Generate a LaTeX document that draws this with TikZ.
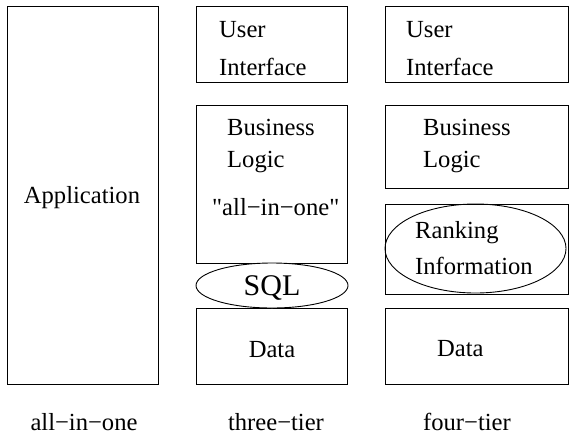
\documentclass[tikz,border=0pt]{standalone}
\usepackage{fontspec}
\setmainfont{Liberation Serif}
\newfontfamily\qfont{Liberation Serif}
\usetikzlibrary{shapes.geometric}
\begin{document}
\begin{tikzpicture}[x=1pt,y=-1pt,
  box/.style={draw,line width=0.9pt,inner sep=0pt,anchor=north west},
  oval/.style={draw,ellipse,line width=0.9pt,inner sep=0pt},
  lbl/.style={inner sep=0pt,anchor=base west,font=\fontsize{24.6}{28}\selectfont},
  ctxt/.style={inner sep=0pt,anchor=base,font=\fontsize{24.6}{28}\selectfont}]
\useasboundingbox (0,0) rectangle (569,437);
% all-in-one
\node[box,minimum width=151pt,minimum height=378pt] (app) at (7,6) {};
\node[ctxt] (apptxt) at (82,203) {Application};
\node[ctxt] (c1) at (84,430) {all−in−one};
% three-tier
\node[box,minimum width=151pt,minimum height=76pt] (ui3) at (196,6) {};
\node[lbl] (ui3a) at (219,37) {User};
\node[lbl] (ui3b) at (219,75) {Interface};
\node[box,minimum width=151pt,minimum height=158pt] (bl3) at (196,105) {};
\node[lbl] (bl3a) at (227,135) {Business};
\node[lbl] (bl3b) at (227,167) {Logic};
\node[lbl] (bl3c) at (212,215) {\qfont "all−in−one"};
\node[box,minimum width=151pt,minimum height=76pt] (da3) at (196,308) {};
\node[oval,fill=white,minimum width=152pt,minimum height=45pt] (sql) at (272,285.5) {};
\node[ctxt,font=\fontsize{30}{34}\selectfont] (sqltxt) at (272,295) {SQL};
\node[ctxt] (da3t) at (272,357) {Data};
\node[ctxt] (c2) at (276,430) {three−tier};
% four-tier
\node[box,minimum width=183pt,minimum height=76pt] (ui4) at (385,6) {};
\node[lbl] (ui4a) at (406,37) {User};
\node[lbl] (ui4b) at (406,75) {Interface};
\node[box,minimum width=183pt,minimum height=83pt] (bl4) at (385,105) {};
\node[lbl] (bl4a) at (423,135) {Business};
\node[lbl] (bl4b) at (423,167) {Logic};
\node[box,minimum width=183pt,minimum height=90pt] (rk4) at (385,204) {};
\node[oval,minimum width=181pt,minimum height=89pt] (rko) at (475.5,248.5) {};
\node[lbl] (rka) at (415,238) {Ranking};
\node[lbl] (rkb) at (415,274) {Information};
\node[box,minimum width=183pt,minimum height=76pt] (da4) at (385,308) {};
\node[lbl] (da4t) at (437,356) {Data};
\node[ctxt] (c3) at (467,430) {four−tier};
\end{tikzpicture}
\end{document}
